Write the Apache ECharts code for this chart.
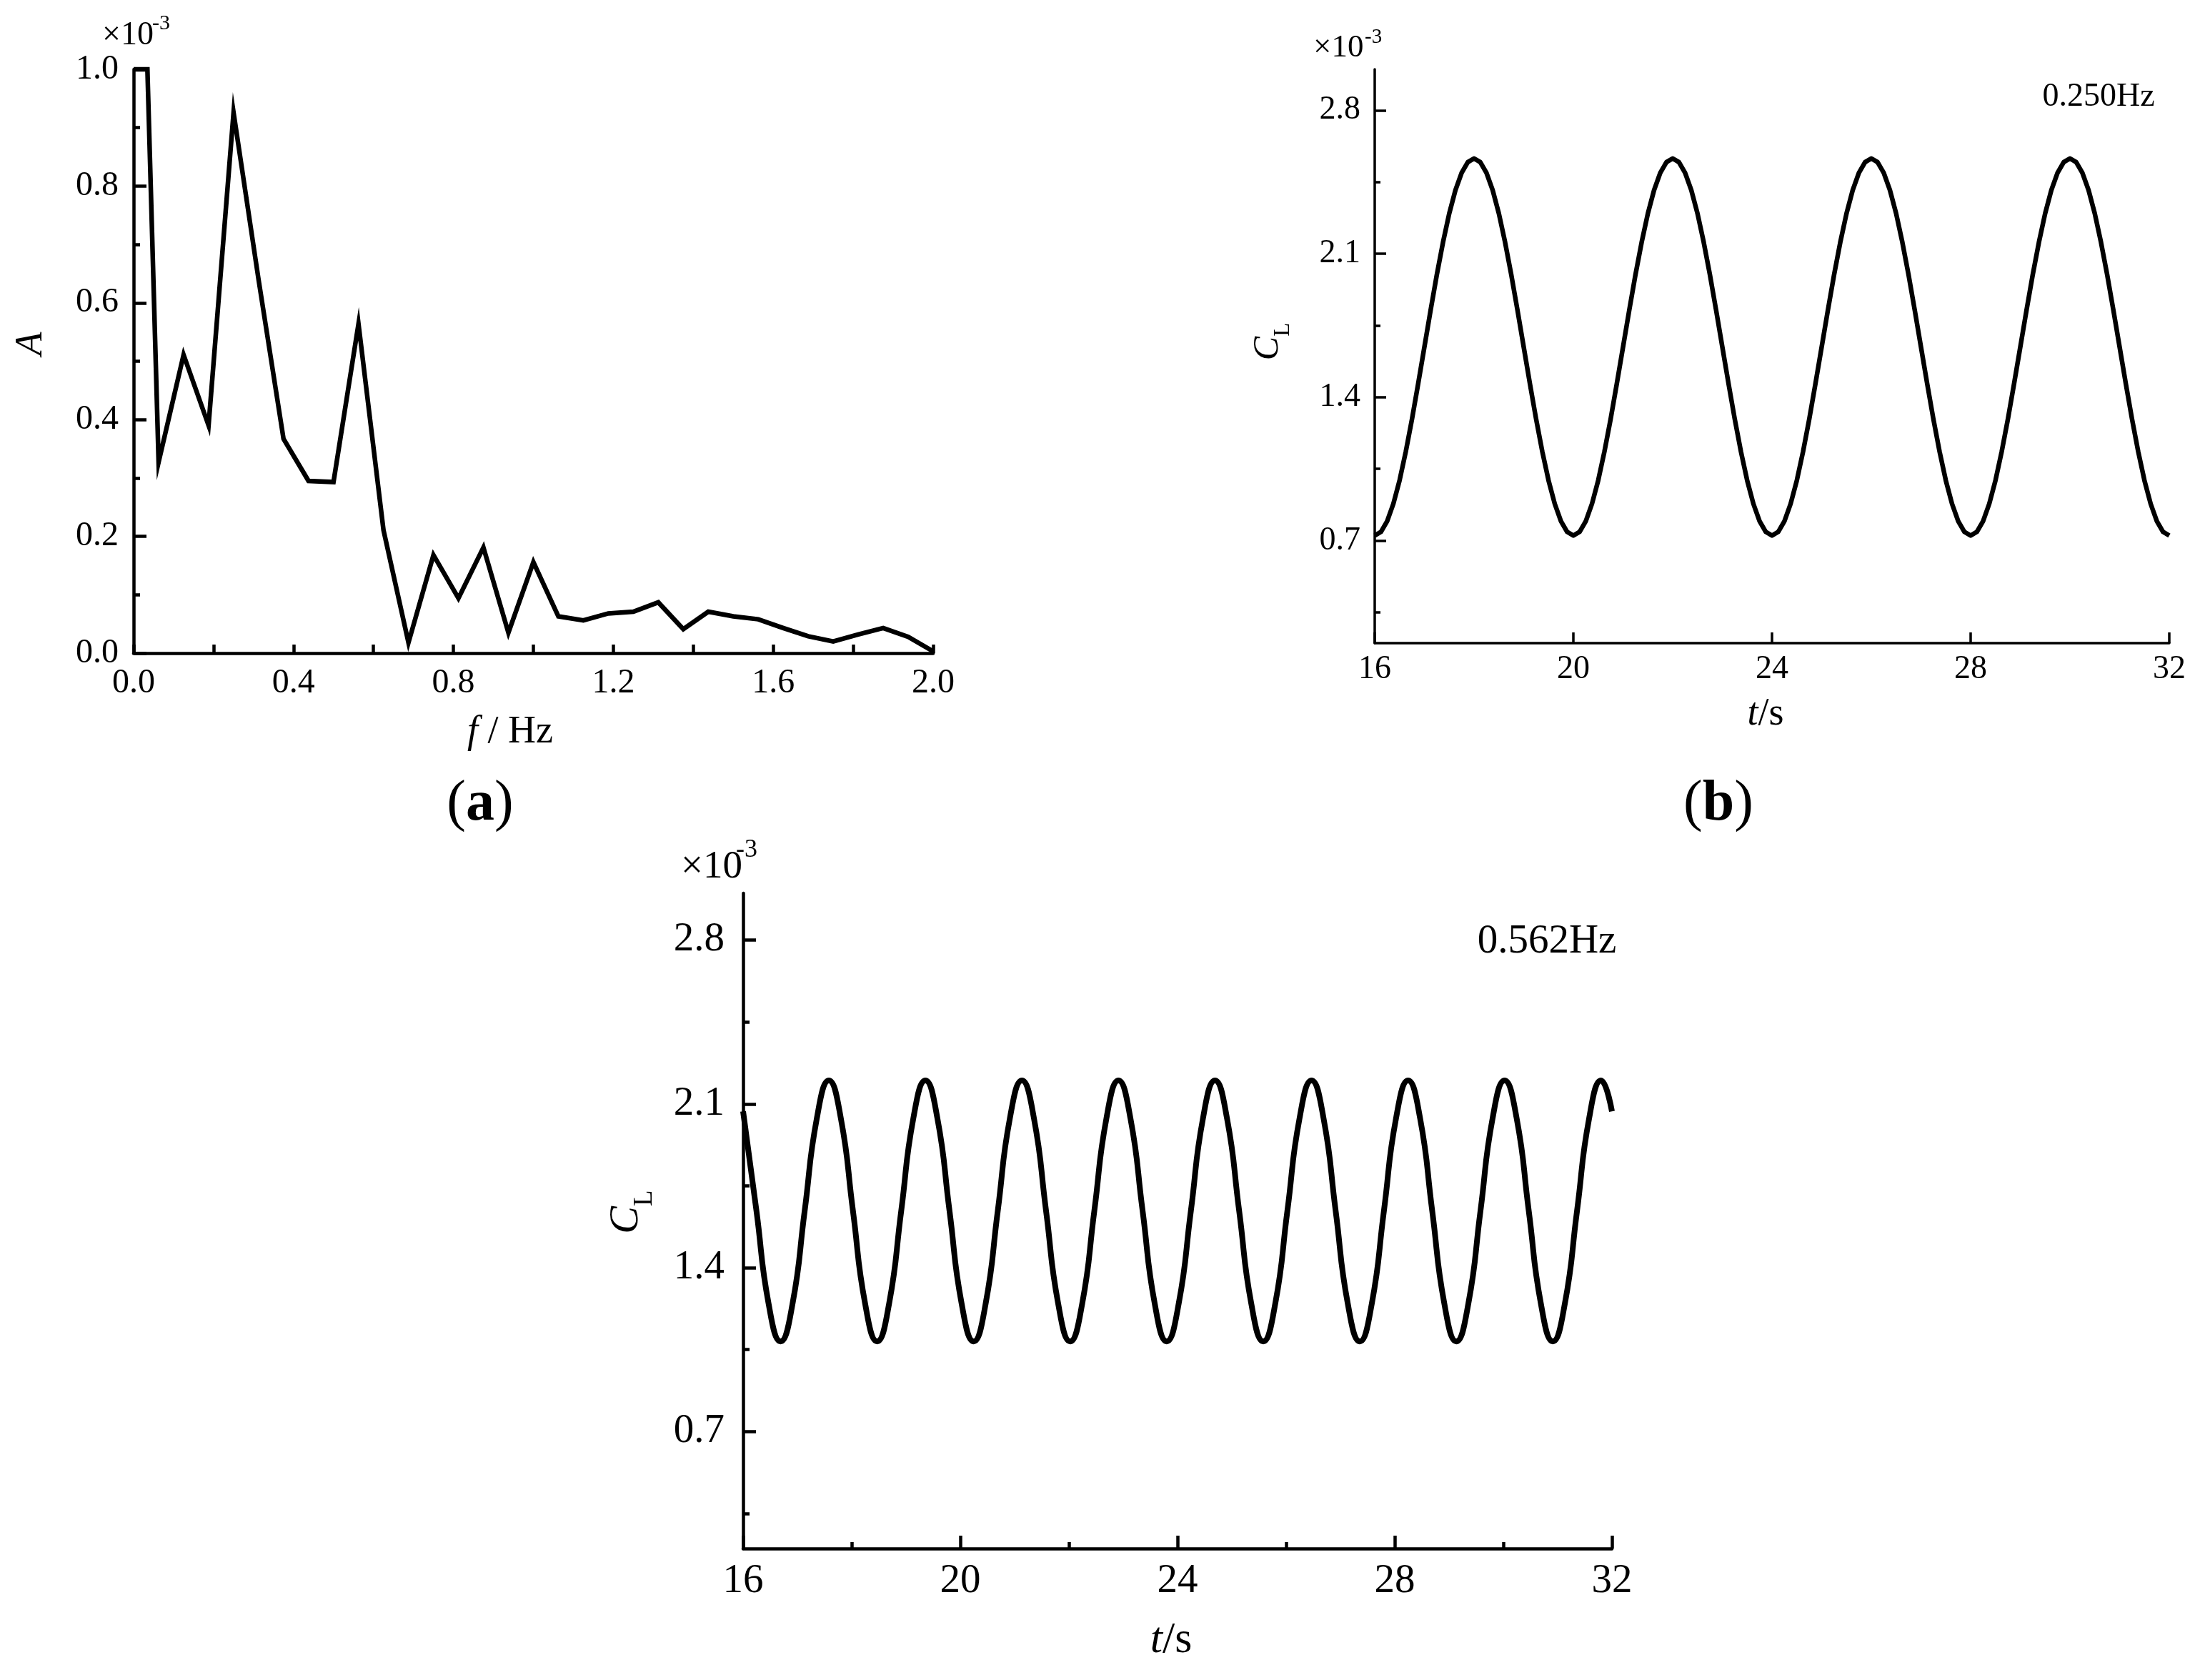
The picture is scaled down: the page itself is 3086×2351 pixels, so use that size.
<!DOCTYPE html>
<html><head><meta charset="utf-8">
<script src="https://cdn.jsdelivr.net/npm/echarts@6/dist/echarts.min.js"></script>
<style>html,body{margin:0;padding:0;background:#fff}#c{width:3086px;height:2351px}</style>
</head><body><div id="c"></div>
<script>
// ---------- data ----------
// (a) amplitude spectrum, A (x10^-3) vs f (Hz)
const freqA = [0, 0.0345, 0.0625, 0.125, 0.1875, 0.25, 0.3125, 0.375, 0.4375, 0.5, 0.5625, 0.625, 0.6875, 0.75, 0.8125, 0.875, 0.9375, 1.0, 1.0625, 1.125, 1.1875, 1.25, 1.3125, 1.375, 1.4375, 1.5, 1.5625, 1.625, 1.6875, 1.75, 1.8125, 1.875, 1.9375, 2.0];
const ampA = [1.0, 1.0, 0.327, 0.511, 0.390, 0.926, 0.640, 0.367, 0.295, 0.293, 0.564, 0.211, 0.018, 0.168, 0.094, 0.181, 0.035, 0.156, 0.063, 0.056, 0.068, 0.071, 0.087, 0.041, 0.071, 0.063, 0.058, 0.043, 0.029, 0.020, 0.032, 0.043, 0.028, 0.003];

// (b) C_L (x10^-3) vs t (s), 0.250 Hz, read every 0.125 s
const timeB = [
  16.000, 16.125, 16.250, 16.375, 16.500, 16.625, 16.750, 16.875, 17.000, 17.125, 17.250, 17.375, 17.500, 17.625, 17.750, 17.875,
  18.000, 18.125, 18.250, 18.375, 18.500, 18.625, 18.750, 18.875, 19.000, 19.125, 19.250, 19.375, 19.500, 19.625, 19.750, 19.875,
  20.000, 20.125, 20.250, 20.375, 20.500, 20.625, 20.750, 20.875, 21.000, 21.125, 21.250, 21.375, 21.500, 21.625, 21.750, 21.875,
  22.000, 22.125, 22.250, 22.375, 22.500, 22.625, 22.750, 22.875, 23.000, 23.125, 23.250, 23.375, 23.500, 23.625, 23.750, 23.875,
  24.000, 24.125, 24.250, 24.375, 24.500, 24.625, 24.750, 24.875, 25.000, 25.125, 25.250, 25.375, 25.500, 25.625, 25.750, 25.875,
  26.000, 26.125, 26.250, 26.375, 26.500, 26.625, 26.750, 26.875, 27.000, 27.125, 27.250, 27.375, 27.500, 27.625, 27.750, 27.875,
  28.000, 28.125, 28.250, 28.375, 28.500, 28.625, 28.750, 28.875, 29.000, 29.125, 29.250, 29.375, 29.500, 29.625, 29.750, 29.875,
  30.000, 30.125, 30.250, 30.375, 30.500, 30.625, 30.750, 30.875, 31.000, 31.125, 31.250, 31.375, 31.500, 31.625, 31.750, 31.875,
  32.000];
const clB = [
  0.725, 0.743, 0.795, 0.880, 0.994, 1.134, 1.293, 1.466, 1.645, 1.824, 1.997, 2.156, 2.296, 2.410, 2.495, 2.547,
  2.565, 2.547, 2.495, 2.410, 2.296, 2.156, 1.997, 1.824, 1.645, 1.466, 1.293, 1.134, 0.994, 0.880, 0.795, 0.743,
  0.725, 0.743, 0.795, 0.880, 0.994, 1.134, 1.293, 1.466, 1.645, 1.824, 1.997, 2.156, 2.296, 2.410, 2.495, 2.547,
  2.565, 2.547, 2.495, 2.410, 2.296, 2.156, 1.997, 1.824, 1.645, 1.466, 1.293, 1.134, 0.994, 0.880, 0.795, 0.743,
  0.725, 0.743, 0.795, 0.880, 0.994, 1.134, 1.293, 1.466, 1.645, 1.824, 1.997, 2.156, 2.296, 2.410, 2.495, 2.547,
  2.565, 2.547, 2.495, 2.410, 2.296, 2.156, 1.997, 1.824, 1.645, 1.466, 1.293, 1.134, 0.994, 0.880, 0.795, 0.743,
  0.725, 0.743, 0.795, 0.880, 0.994, 1.134, 1.293, 1.466, 1.645, 1.824, 1.997, 2.156, 2.296, 2.410, 2.495, 2.547,
  2.565, 2.547, 2.495, 2.410, 2.296, 2.156, 1.997, 1.824, 1.645, 1.466, 1.293, 1.134, 0.994, 0.880, 0.795, 0.743,
  0.725];

// (c) C_L (x10^-3) vs t (s), 0.562 Hz
const timeC = [16.000, 16.246, 16.468,
  16.690, 16.912, 17.134, 17.357, 17.579, 17.801, 18.023, 18.246,
  18.468, 18.690, 18.912, 19.134, 19.357, 19.579, 19.801, 20.023,
  20.246, 20.468, 20.690, 20.912, 21.135, 21.357, 21.579, 21.801,
  22.023, 22.246, 22.468, 22.690, 22.912, 23.134, 23.357, 23.579,
  23.801, 24.023, 24.246, 24.468, 24.690, 24.912, 25.135, 25.357,
  25.579, 25.801, 26.023, 26.246, 26.468, 26.690, 26.912, 27.134,
  27.357, 27.579, 27.801, 28.023, 28.246, 28.468, 28.690, 28.912,
  29.134, 29.357, 29.579, 29.801, 30.023, 30.246, 30.468, 30.690,
  30.912, 31.134, 31.357, 31.579, 31.801, 32.000];
const clC = [2.068, 1.643, 1.248,
  1.085, 1.248, 1.643, 2.037, 2.200, 2.037, 1.643, 1.248,
  1.085, 1.248, 1.643, 2.037, 2.200, 2.037, 1.643, 1.248,
  1.085, 1.248, 1.643, 2.037, 2.200, 2.037, 1.643, 1.248,
  1.085, 1.248, 1.643, 2.037, 2.200, 2.037, 1.643, 1.248,
  1.085, 1.248, 1.643, 2.037, 2.200, 2.037, 1.643, 1.248,
  1.085, 1.248, 1.643, 2.037, 2.200, 2.037, 1.643, 1.248,
  1.085, 1.248, 1.643, 2.037, 2.200, 2.037, 1.643, 1.248,
  1.085, 1.248, 1.643, 2.037, 2.200, 2.037, 1.643, 1.248,
  1.085, 1.248, 1.643, 2.037, 2.200,
  2.068];

// tick values for the C_L axes
const clTicks = [0.7, 1.4, 2.1, 2.8];
const clMinorTicks = [0.35, 1.05, 1.75, 2.45];

// ---------- chart ----------
const FONT = "'Liberation Serif', 'Times New Roman', serif";
const BLACK = '#000';

function pairs(xs, ys) { return xs.map((x, i) => [x, ys[i]]); }

const chart = echarts.init(document.getElementById('c'), null, {renderer: 'canvas'});

function valueAxisX(grid, min, max, interval, opts) {
  return {
    type: 'value', gridIndex: grid, min: min, max: max, interval: interval,
    axisLine: {show: true, onZero: false, lineStyle: {color: BLACK, width: opts.lw}},
    axisTick: {show: true, inside: true, length: opts.tick, lineStyle: {color: BLACK, width: opts.lw}},
    minorTick: {show: !!opts.minor, splitNumber: 2, length: opts.minor || 0, lineStyle: {color: BLACK, width: opts.lw}},
    axisLabel: {show: true, margin: opts.margin, color: BLACK, fontSize: opts.fs, fontFamily: FONT, formatter: opts.fmt},
    splitLine: {show: false}, minorSplitLine: {show: false}
  };
}

const option = {
  animation: false,
  backgroundColor: '#fff',
  grid: [
    {left: 187, top: 97, width: 1119, height: 817, outerBoundsMode: 'none', containLabel: false},
    {left: 1924, top: 97, width: 1112, height: 803, outerBoundsMode: 'none', containLabel: false},
    {left: 1040, top: 1250, width: 1216, height: 917, outerBoundsMode: 'none', containLabel: false}
  ],
  xAxis: [
    valueAxisX(0, 0, 2.0, 0.4, {lw: 4.5, tick: 12, minor: 12, margin: 18, fs: 48, fmt: v => v.toFixed(1)}),
    valueAxisX(1, 16, 32, 4, {lw: 3.5, tick: 15, minor: 0, margin: 14, fs: 46, fmt: v => String(Math.round(v))}),
    valueAxisX(2, 16, 32, 4, {lw: 4.5, tick: 18, minor: 9, margin: 18, fs: 57, fmt: v => String(Math.round(v))})
  ],
  yAxis: [
    {
      type: 'value', gridIndex: 0, min: 0, max: 1.0, interval: 0.2, position: 'left',
      axisLine: {show: true, onZero: false, lineStyle: {color: BLACK, width: 4.5}},
      axisTick: {show: true, inside: true, length: 18, lineStyle: {color: BLACK, width: 4.5}},
      minorTick: {show: true, splitNumber: 2, length: 9, lineStyle: {color: BLACK, width: 4.5}},
      axisLabel: {margin: 21, color: BLACK, fontSize: 48, fontFamily: FONT, formatter: v => v.toFixed(1)},
      splitLine: {show: false}, minorSplitLine: {show: false}
    },
    {
      type: 'value', gridIndex: 1, min: 0.2, max: 3.0, position: 'left',
      axisLine: {show: true, onZero: false, lineStyle: {color: BLACK, width: 3.5}},
      axisTick: {show: true, inside: true, length: 16, customValues: clTicks, lineStyle: {color: BLACK, width: 3.5}},
      axisLabel: {margin: 20, color: BLACK, fontSize: 46, fontFamily: FONT, customValues: clTicks, formatter: v => v.toFixed(1)},
      splitLine: {show: false}
    },
    {
      type: 'value', gridIndex: 1, min: 0.2, max: 3.0, position: 'left', offset: 0,
      axisLine: {show: false},
      axisTick: {show: true, inside: true, length: 8, customValues: clMinorTicks, lineStyle: {color: BLACK, width: 3.5}},
      axisLabel: {show: false},
      splitLine: {show: false}
    },
    {
      type: 'value', gridIndex: 2, min: 0.2, max: 3.0, position: 'left',
      axisLine: {show: true, onZero: false, lineStyle: {color: BLACK, width: 4.5}},
      axisTick: {show: true, inside: true, length: 18, customValues: clTicks, lineStyle: {color: BLACK, width: 4.5}},
      axisLabel: {margin: 26, color: BLACK, fontSize: 57, fontFamily: FONT, customValues: clTicks, formatter: v => v.toFixed(1)},
      splitLine: {show: false}
    },
    {
      type: 'value', gridIndex: 2, min: 0.2, max: 3.0, position: 'left', offset: 0,
      axisLine: {show: false},
      axisTick: {show: true, inside: true, length: 9, customValues: clMinorTicks, lineStyle: {color: BLACK, width: 4.5}},
      axisLabel: {show: false},
      splitLine: {show: false}
    }
  ],
  series: [
    {type: 'line', xAxisIndex: 0, yAxisIndex: 0, data: pairs(freqA, ampA), showSymbol: false, clip: false,
     lineStyle: {color: BLACK, width: 6.5, join: 'miter'}},
    {type: 'line', xAxisIndex: 1, yAxisIndex: 1, data: pairs(timeB, clB), showSymbol: false, smooth: false, clip: false,
     lineStyle: {color: BLACK, width: 6.5, join: 'round'}},
    {type: 'line', xAxisIndex: 2, yAxisIndex: 3, data: pairs(timeC, clC), showSymbol: false, smooth: true, clip: false,
     lineStyle: {color: BLACK, width: 8}}
  ],
  graphic: [
    // (a)
    {type: 'text', x: 143, y: 50, style: {text: '×10', font: '46px ' + FONT, fill: BLACK, align: 'left', verticalAlign: 'middle'}},
    {type: 'text', x: 213, y: 33, style: {text: '-3', font: '30px ' + FONT, fill: BLACK, align: 'left', verticalAlign: 'middle'}},
    {type: 'text', x: 44, y: 481, rotation: Math.PI / 2, style: {text: 'A', font: 'italic 54px ' + FONT, fill: BLACK, align: 'center', verticalAlign: 'middle'}},
    {type: 'text', x: 714, y: 1025, style: {text: '{i|f}{n| / Hz}', align: 'center', verticalAlign: 'middle',
      rich: {i: {fontFamily: FONT, fontSize: 54, fontStyle: 'italic', fill: BLACK}, n: {fontFamily: FONT, fontSize: 54, fill: BLACK}}}},
    {type: 'text', x: 672, y: 1126, style: {text: '{p|(}{b|a}{p|)}', align: 'center', verticalAlign: 'middle',
      rich: {p: {fontFamily: FONT, fontSize: 80, fill: BLACK}, b: {fontFamily: FONT, fontSize: 80, fontWeight: 'bold', fill: BLACK}}}},
    // (b)
    {type: 'text', x: 1838, y: 67, style: {text: '×10', font: '45px ' + FONT, fill: BLACK, align: 'left', verticalAlign: 'middle'}},
    {type: 'text', x: 1910, y: 52, style: {text: '-3', font: '29px ' + FONT, fill: BLACK, align: 'left', verticalAlign: 'middle'}},
    {type: 'text', x: 2937, y: 136, style: {text: '0.250Hz', font: '46px ' + FONT, fill: BLACK, align: 'center', verticalAlign: 'middle'}},
    {type: 'text', x: 1775, y: 478, rotation: Math.PI / 2, style: {text: '{c|C}{l|L}', align: 'center', verticalAlign: 'middle',
      rich: {c: {fontFamily: FONT, fontSize: 50, fontStyle: 'italic', lineHeight: 50, fill: BLACK},
             l: {fontFamily: FONT, fontSize: 31, lineHeight: 31, verticalAlign: 'top', padding: [30, 0, 0, 0], fill: BLACK}}}},
    {type: 'text', x: 2471, y: 1000, style: {text: '{i|t}{n|/s}', align: 'center', verticalAlign: 'middle',
      rich: {i: {fontFamily: FONT, fontSize: 54, fontStyle: 'italic', fill: BLACK}, n: {fontFamily: FONT, fontSize: 54, fill: BLACK}}}},
    {type: 'text', x: 2405, y: 1126, style: {text: '{p|(}{b|b}{p|)}', align: 'center', verticalAlign: 'middle',
      rich: {p: {fontFamily: FONT, fontSize: 80, fill: BLACK}, b: {fontFamily: FONT, fontSize: 80, fontWeight: 'bold', fill: BLACK}}}},
    // (c)
    {type: 'text', x: 953, y: 1214, style: {text: '×10', font: '55px ' + FONT, fill: BLACK, align: 'left', verticalAlign: 'middle'}},
    {type: 'text', x: 1030, y: 1190, style: {text: '-3', font: '36px ' + FONT, fill: BLACK, align: 'left', verticalAlign: 'middle'}},
    {type: 'text', x: 2165, y: 1318, style: {text: '0.562Hz', font: '57px ' + FONT, fill: BLACK, align: 'center', verticalAlign: 'middle'}},
    {type: 'text', x: 877, y: 1696, rotation: Math.PI / 2, style: {text: '{c|C}{l|L}', align: 'center', verticalAlign: 'middle',
      rich: {c: {fontFamily: FONT, fontSize: 58, fontStyle: 'italic', lineHeight: 58, fill: BLACK},
             l: {fontFamily: FONT, fontSize: 37, lineHeight: 37, verticalAlign: 'top', padding: [36, 0, 0, 0], fill: BLACK}}}},
    {type: 'text', x: 1639, y: 2296, style: {text: '{i|t}{n|/s}', align: 'center', verticalAlign: 'middle',
      rich: {i: {fontFamily: FONT, fontSize: 62, fontStyle: 'italic', fill: BLACK}, n: {fontFamily: FONT, fontSize: 62, fill: BLACK}}}}
  ]
};
chart.setOption(option);
</script>
</body></html>
